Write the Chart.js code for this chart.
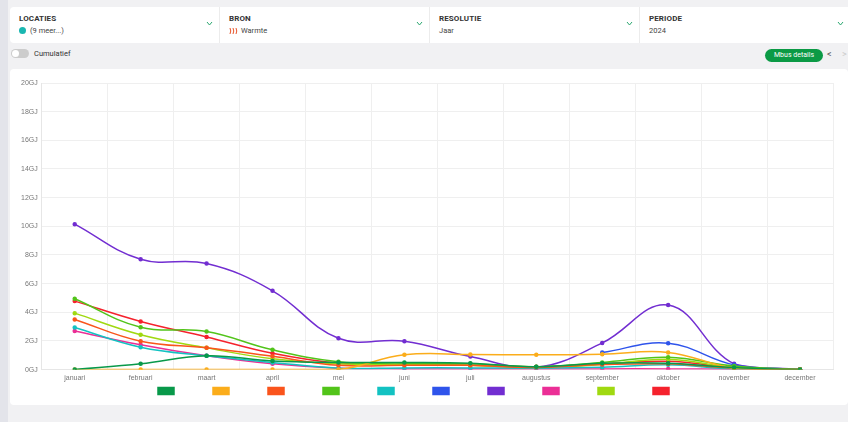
<!DOCTYPE html>
<html>
<head>
<meta charset="utf-8">
<script src="https://cdn.jsdelivr.net/npm/chart.js@4.4.1/dist/chart.umd.min.js"></script>
<style>
  body { margin: 0; width: 848px; height: 422px; background: #f1f1f3; font-family: "Liberation Sans Narrow", "Roboto", sans-serif; overflow: hidden; position: relative; }
  .side { position: absolute; left: 0; top: 0; width: 8px; height: 422px; background: #e3e4ea; }
  .filters { position: absolute; left: 10px; top: 7px; width: 848px; height: 36px; background: #fff; border-radius: 4px; display: flex; }
  .filter { position: relative; width: 210px; border-right: 1px solid #ececec; padding: 7px 0 0 9px; box-sizing: border-box; }
  .filter .t { font-size: 8px; font-weight: bold; color: #333; letter-spacing: 0.1px; }
  .filter .s { font-size: 7.5px; color: #444; margin-top: 3px; display: flex; align-items: center; }
  .filter svg.chev { position: absolute; right: 6px; top: 14px; }
  .dot { width: 7px; height: 7px; border-radius: 50%; background: #19b7b1; margin-right: 4px; }
  .row2 { position: absolute; left: 11px; top: 49px; font-size: 7.5px; color: #333; display: flex; align-items: center; }
  .toggle { width: 18px; height: 9px; border-radius: 5px; background: #ccc; position: relative; margin-right: 5px; }
  .toggle::after { content: ""; position: absolute; left: 1px; top: 1px; width: 7px; height: 7px; border-radius: 50%; background: #fff; }
  .btn { position: absolute; left: 765px; top: 49px; width: 58px; height: 13px; border-radius: 7px; background: #0b9a45; color: #fff; font-size: 7px; text-align: center; line-height: 13px; }
  .arr { position: absolute; top: 49px; font-size: 9px; color: #555; }
  .panel { position: absolute; left: 10px; top: 69px; width: 838px; height: 336px; background: #fff; border-radius: 4px; }
  .wrap { position: absolute; left: 10px; top: 70px; width: 830px; height: 340px; }
</style>
</head>
<body>
<div class="side"></div>
<div class="filters">
  <div class="filter"><div class="t">LOCATIES</div><div class="s"><span class="dot"></span>(9 meer...)</div>
    <svg class="chev" width="7" height="5"><polyline points="1,1 3.5,4 6,1" fill="none" stroke="#2aa870" stroke-width="1"/></svg></div>
  <div class="filter"><div class="t">BRON</div><div class="s">
    <svg width="9" height="8" style="margin-right:3px"><path d="M1,1 q1.5,3 0,6 M4,1 q1.5,3 0,6 M7,1 q1.5,3 0,6" fill="none" stroke="#e8542a" stroke-width="1"/></svg>Warmte</div>
    <svg class="chev" width="7" height="5"><polyline points="1,1 3.5,4 6,1" fill="none" stroke="#2aa870" stroke-width="1"/></svg></div>
  <div class="filter"><div class="t">RESOLUTIE</div><div class="s">Jaar</div>
    <svg class="chev" width="7" height="5"><polyline points="1,1 3.5,4 6,1" fill="none" stroke="#2aa870" stroke-width="1"/></svg></div>
  <div class="filter" style="border-right:none"><div class="t">PERIODE</div><div class="s">2024</div>
    <svg class="chev" width="7" height="5"><polyline points="1,1 3.5,4 6,1" fill="none" stroke="#2aa870" stroke-width="1"/></svg></div>
</div>
<div class="row2"><span class="toggle"></span>Cumulatief</div>
<div class="btn">Mbus details</div>
<div class="arr" style="left:827px">&lt;</div>
<div class="arr" style="left:842px;color:#ccc">&gt;</div>
<div class="panel"></div>
<div class="wrap"><canvas id="myChartWarmte"></canvas></div>
<script>
const maanden = ['januari', 'februari', 'maart', 'april', 'mei', 'juni', 'juli', 'augustus', 'september', 'oktober', 'november', 'december']
const kleuren = ['#08994a', '#fbad1b', '#fa541c', '#52c41a', '#13c2c2', '#2f54eb', '#722ed1', '#eb2f96', '#a0d911', '#f5222d']

const locatie1 = [0, 0.4, 0.96, 0.6, 0.5, 0.5, 0.45, 0.2, 0.45, 0.45, 0.15, 0]
const locatie2 = [0, 0, 0, 0, 0, 1.03, 1.05, 1.03, 1.07, 1.2, 0.1, 0]
const locatie3 = [3.5, 1.98, 1.52, 0.93, 0.3, 0.3, 0.3, 0.15, 0.35, 0.4, 0.1, 0]
const locatie4 = [4.94, 2.96, 2.66, 1.38, 0.55, 0.45, 0.4, 0.2, 0.5, 0.86, 0.25, 0]
const locatie5 = [2.94, 1.56, 0.96, 0.5, 0.1, 0.12, 0.12, 0.1, 0.16, 0.33, 0.05, 0]
const locatie6 = [null, null, null, null, null, null, null, null, 1.19, 1.84, 0.33, 0]
const locatie7 = [10.15, 7.7, 7.4, 5.5, 2.19, 1.98, 0.91, 0.16, 1.86, 4.5, 0.4, 0]
const locatie8 = [2.7, 1.73, 0.96, 0.4, 0.1, 0.05, 0.05, 0.05, 0.05, 0.05, 0.02, 0]
const locatie9 = [3.94, 2.43, 1.52, 0.75, 0.4, 0.35, 0.3, 0.15, 0.35, 0.72, 0.15, 0]
const locatie10 = [4.78, 3.36, 2.28, 1.14, 0.45, 0.35, 0.3, 0.2, 0.4, 0.58, 0.15, 0]

const reeksen = [locatie1, locatie2, locatie3, locatie4, locatie5, locatie6, locatie7, locatie8, locatie9, locatie10]

// legenda een stukje verschuiven, zoals in het dashboard
const legendaSchuif = {
    id: 'legendaSchuif',
    afterLayout(chart) {
        const l = chart.legend
        l.left += 6; l.right += 6
        l.top -= 4; l.bottom -= 4
    }
}

var ctx = document.getElementById('myChartWarmte')
var myChart = new Chart(ctx, {
    type: 'line',
    data: {
        labels: maanden,
        datasets: reeksen.map((reeks, i) => ({
            label: '\u2003\u2003\u2003',
            data: reeks,
            borderColor: kleuren[i],
            backgroundColor: kleuren[i],
            borderWidth: 1.5,
            pointRadius: 1.5,
            tension: 0.4,
            fill: false
        }))
    },
    options: {
        responsive: true,
        maintainAspectRatio: false,
        animation: false,
        layout: { padding: { left: 7, right: 7, top: 13, bottom: 0 } },
        plugins: {
            legend: {
                position: 'bottom',
                labels: { boxWidth: 16, boxHeight: 7, padding: 4, font: { size: 10 } }
            },
            tooltip: { enabled: false }
        },
        scales: {
            x: {
                offset: true,
                grid: { offset: true, color: '#efefef', drawTicks: false },
                border: { color: '#e6e6e6' },
                ticks: { color: '#777', font: { size: 7 }, padding: 4 }
            },
            y: {
                min: 0,
                max: 20,
                grid: { color: '#efefef', drawTicks: false },
                border: { color: '#e6e6e6' },
                ticks: { stepSize: 2, color: '#777', font: { size: 7 }, padding: 4, callback: v => v + 'GJ' }
            }
        }
    },
    plugins: [legendaSchuif]
})
</script>
</body>
</html>
